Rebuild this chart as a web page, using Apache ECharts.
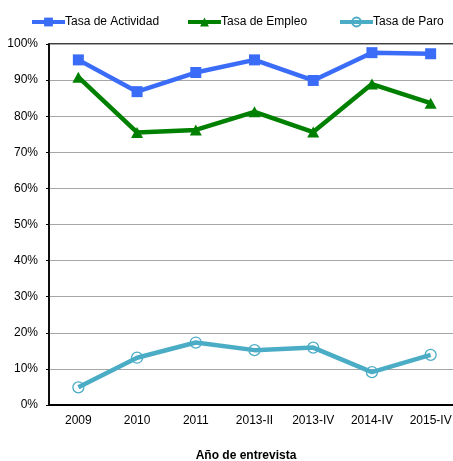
<!DOCTYPE html>
<html><head><meta charset="utf-8">
<script src="https://cdn.jsdelivr.net/npm/echarts@6/dist/echarts.min.js"></script>
<style>html,body{margin:0;padding:0;background:#fff;overflow:hidden;width:453px;height:461px}#c{width:461px;height:461px}</style>
</head><body><div id="c"></div>
<script>
const categories = ['2009','2010','2011','2013-II','2013-IV','2014-IV','2015-IV'];
const actividad = [95.6, 86.8, 92.1, 95.6, 89.9, 97.6, 97.3];
const empleo = [90.8, 75.5, 76.2, 81.2, 75.6, 88.9, 83.6];
const paro = [4.9, 13.1, 17.3, 15.2, 15.9, 9.1, 13.9];
const seriesNames = ['Tasa de Actividad','Tasa de Empleo','Tasa de Paro'];

const font = 'Liberation Sans, Arial, sans-serif';
const legendLefts = [30, 186, 338];
const chart = echarts.init(document.getElementById('c'), null, {renderer:'canvas'});
chart.setOption({
  animation:false,
  backgroundColor:'#fff',
  textStyle:{fontFamily:font},
  legend: seriesNames.map((n,i)=>({
    top:16, left:legendLefts[i], padding:0, itemGap:0, itemWidth:33, itemHeight:11,
    lineStyle:{width:4},
    textStyle:{fontSize:12, color:'#000', fontFamily:font, padding:[0,0,0,-5]},
    data:[n]
  })),
  grid:{left:49, top:44, width:411, height:361, show:true, borderColor:'#000', borderWidth:1.5, backgroundColor:'transparent'},
  xAxis:{
    type:'category', data:categories, boundaryGap:true,
    axisLine:{lineStyle:{color:'#000', width:2}},
    axisTick:{show:false},
    axisLabel:{color:'#000', fontSize:12, margin:10, fontFamily:font}
  },
  yAxis:{
    type:'value', min:0, max:100, interval:10,
    axisLine:{show:true, lineStyle:{color:'#000', width:1.5}},
    axisTick:{show:true, inside:false, length:3, lineStyle:{color:'#000'}},
    axisLabel:{color:'#000', fontSize:12, margin:11, fontFamily:font, formatter:v=>v+'%'},
    splitLine:{lineStyle:{color:'#a6a6a6', width:1}}
  },
  graphic:[{type:'text', x:246, y:450, style:{text:'Año de entrevista', font:'bold 12px '+font, fill:'#000', textAlign:'center'}}],
  series:[
    {name:seriesNames[0], type:'line', data:actividad, symbol:'rect', symbolSize:11,
      lineStyle:{color:'#3a6cf8', width:4.5}, itemStyle:{color:'#3a6cf8'}, z:3},
    {name:seriesNames[1], type:'line', data:empleo, symbol:'triangle', symbolSize:[12,11],
      lineStyle:{color:'#008000', width:4.5}, itemStyle:{color:'#008000'}, z:3},
    {name:seriesNames[2], type:'line', data:paro, symbol:'circle', symbolSize:11,
      lineStyle:{color:'#4bacc6', width:4.5}, itemStyle:{color:'rgba(255,255,255,0)', borderColor:'#4bacc6', borderWidth:1.3}, z:3}
  ]
});
</script></body></html>
